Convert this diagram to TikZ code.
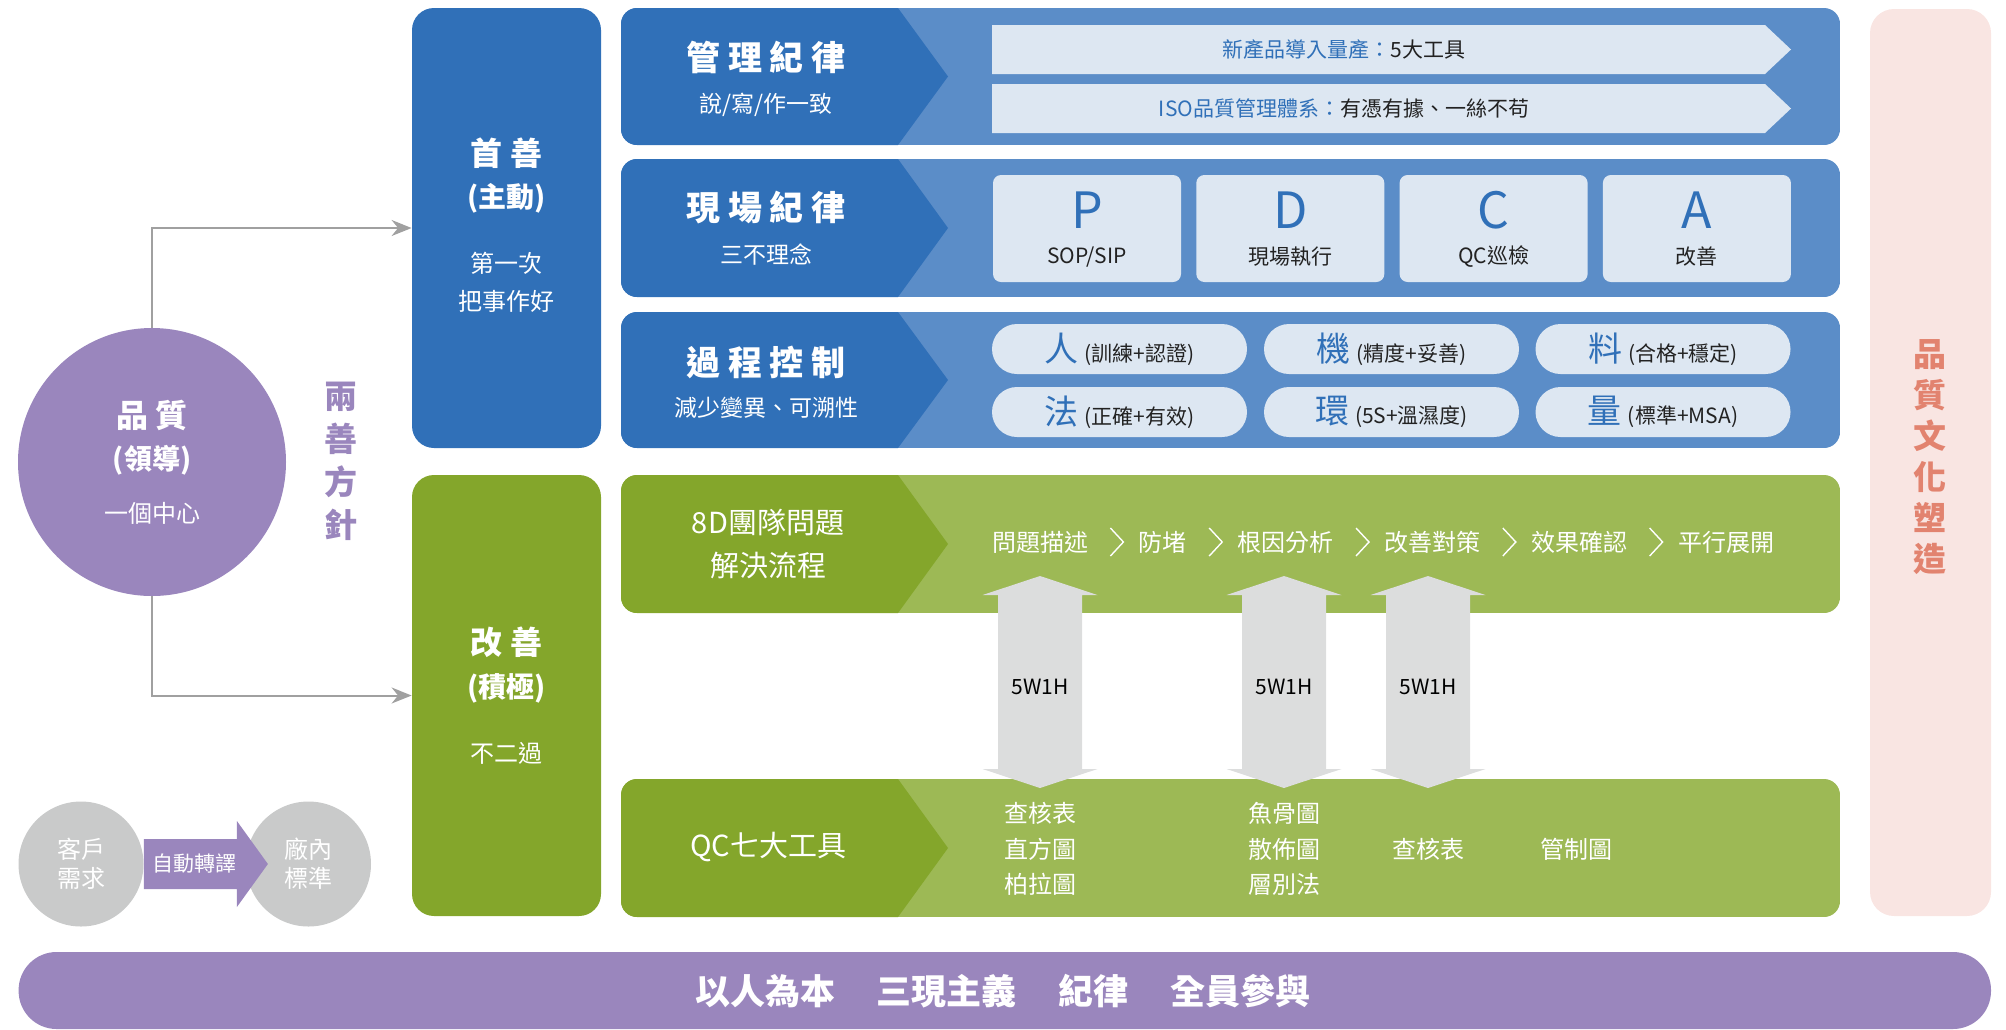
\documentclass[tikz,border=0pt]{standalone}
\usepackage{fontspec}
\setmainfont{Noto Sans CJK TC}
\usetikzlibrary{positioning,calc,arrows.meta}
\definecolor{blueDark}{HTML}{3070B8}
\definecolor{blueLight}{HTML}{5B8DC8}
\definecolor{bluePale}{HTML}{DDE7F2}
\definecolor{greenDark}{HTML}{84A62B}
\definecolor{greenLight}{HTML}{9DB955}
\definecolor{purpleMain}{HTML}{9A86BD}
\definecolor{greyCircle}{HTML}{C9CACA}
\definecolor{greyArrow}{HTML}{DCDDDD}
\definecolor{greyLine}{HTML}{A0A0A0}
\definecolor{pinkBack}{HTML}{F9E5E2}
\definecolor{pinkText}{HTML}{E2836F}
\definecolor{textcol}{HTML}{222222}

\begin{document}
\begin{tikzpicture}[x=0.5pt,y=-0.5pt,
	rowtitle/.style={text=white,font=\fontsize{17}{20}\selectfont\bfseries},
	rowsub/.style={text=white,font=\fontsize{11.5}{14}\selectfont},
	grtitle/.style={text=white,align=center,font=\fontsize{14.5}{21.5}\selectfont},
	coltitle/.style={text=white,font=\fontsize{16}{19}\selectfont\bfseries},
	colparen/.style={text=white,font=\fontsize{14}{16}\selectfont\bfseries},
	colsub/.style={text=white,align=center,font=\fontsize{12}{19}\selectfont},
	colbox/.style={rounded corners=11pt,minimum width=94.5pt,inner sep=0pt},
	pdcabox/.style={fill=bluePale,rounded corners=4pt,minimum width=94pt,minimum height=53.5pt,inner sep=0pt},
	pdcaletter/.style={text=blueDark,font=\fontsize{25}{25}\selectfont},
	pdcalabel/.style={text=textcol,font=\fontsize{10.5}{12}\selectfont},
	pill/.style={fill=bluePale,rounded corners=12.5pt,minimum width=127.5pt,minimum height=25pt,inner sep=0pt,text=textcol,font=\fontsize{10.5}{12}\selectfont},
	subtext/.style={text=textcol,font=\fontsize{10.5}{12}\selectfont},
	flowtext/.style={text=white,inner sep=0pt,font=\fontsize{12}{14}\selectfont},
	sepline/.style={draw=white,line width=0.7pt},
	wlabel/.style={text=black,font=\fontsize{10.5}{12}\selectfont},
	qcitem/.style={text=white,align=center,font=\fontsize{12}{17.75}\selectfont},
	vtext/.style={align=center,font=\fontsize{16.5}{21.5}\selectfont\bfseries},
	conn/.style={draw=greyLine,line width=1pt,-{Stealth[length=10pt,width=8pt]}},
	greycirc/.style={circle,fill=greyCircle,minimum size=62.5pt,inner sep=0pt,text=white,align=center,font=\fontsize{12}{14.5}\selectfont}
	]
\useasboundingbox (0,0) rectangle (2006,1029);

% culture column on the right
\fill[pinkBack,rounded corners=12pt] (1870,9) rectangle (1991,916);
\node[vtext,text=pinkText,font=\fontsize{16.5}{20.5}\selectfont\bfseries] (culture) at (1930,457.5) {品\\質\\文\\化\\塑\\造};

% five rows with chevron heads
\foreach \ya/\yb/\dk/\lt in {
	8/145/blueDark/blueLight,
	159/297/blueDark/blueLight,
	312/448/blueDark/blueLight,
	475/613/greenDark/greenLight,
	779/917/greenDark/greenLight%
	}{
	\begin{scope}
		\clip[rounded corners=8pt] (621,\ya) rectangle (1840,\yb);
		\fill[\lt] (621,\ya) rectangle (1840,\yb);
		\fill[\dk] (621,\ya) -- (898,\ya) -- (948,{(\ya+\yb)/2}) -- (898,\yb) -- (621,\yb) -- cycle;
	\end{scope}
	}

\node[rowtitle] (mgmt) at (766,57) {管 理 紀 律};
\node[rowsub] (mgmtSub) at (766,105) {說/寫/作一致};
\node[rowtitle] (site) at (766,208) {現 場 紀 律};
\node[rowsub] (siteSub) at (766,255) {三不理念};
\node[rowtitle] (proc) at (766,362) {過 程 控 制};
\node[rowsub] (procSub) at (766,408) {減少變異、可溯性};
\node[grtitle] (eightD) at (768,543.5) {8D團隊問題\\解決流程};
\node[grtitle] (qcTools) at (768,847) {QC七大工具};

% row 1: two arrow strips
\fill[bluePale] (992,25) -- (1765,25) -- (1791,49.5) -- (1765,74) -- (992,74) -- cycle;
\fill[bluePale] (992,84) -- (1765,84) -- (1791,108.5) -- (1765,133) -- (992,133) -- cycle;
\node[subtext] (npi) at (1344,49.5) {\textcolor{blueDark}{新產品導入量產：}5大工具};
\node[subtext] (iso) at (1344,108.5) {\textcolor{blueDark}{ISO品質管理體系：}有憑有據、一絲不苟};

% row 2: PDCA
\foreach \ltr/\lbl [count=\i] in {P/{SOP/SIP},D/現場執行,C/QC巡檢,A/改善}{
	\node[pdcabox] (pdca\i) at ({1087+203.3*(\i-1)},228.5) {};
	\node[pdcaletter] (ltr\i) at ($(pdca\i.center)+(0,-18.5)$) {\ltr};
	\node[pdcalabel] (lbl\i) at ($(pdca\i.center)+(0,28.5)$) {\lbl};
	}

% row 3: six factors
\foreach \px/\py/\ch/\lbl [count=\i] in {
	1119.5/349/人/訓練+認證,
	1391.5/349/機/精度+妥善,
	1663/349/料/合格+穩定,
	1119.5/412/法/正確+有效,
	1391.5/412/環/5S+溫濕度,
	1663/412/量/標準+MSA%
	}{
	\node[pill] (m\i) at (\px,\py) {{\fontsize{17}{17}\selectfont\textcolor{blueDark}{\ch}}\hspace{3pt}(\lbl)};
	}

% row 4: 8D flow
\node[flowtext] (f1) at (1040,542) {問題描述};
\node[flowtext,right=25pt of f1] (f2) {防堵};
\node[flowtext,right=25pt of f2] (f3) {根因分析};
\node[flowtext,right=25pt of f3] (f4) {改善對策};
\node[flowtext,right=25pt of f4] (f5) {效果確認};
\node[flowtext,right=25pt of f5] (f6) {平行展開};
\foreach \a/\b in {f1/f2,f2/f3,f3/f4,f4/f5,f5/f6}{
	\draw[sepline] ($(\a.east)!0.5!(\b.west)+(-3,-14)$) -- ++(13,14) -- ++(-13,14);
	}

% 5W1H double arrows
\foreach \ax [count=\i] in {1040,1284,1428}{
	\fill[greyArrow] ({\ax},576) -- ({\ax+57.5},595) -- ({\ax+42},595) -- ({\ax+42},769) -- ({\ax+57.5},769) -- ({\ax},788)
		-- ({\ax-57.5},769) -- ({\ax-42},769) -- ({\ax-42},595) -- ({\ax-57.5},595) -- cycle;
	\node[wlabel] (w\i) at (\ax,687) {5W1H};
	}

% row 5: QC tools
\node[qcitem] (qc1) at (1040,849) {查核表\\直方圖\\柏拉圖};
\node[qcitem] (qc2) at (1284,849) {魚骨圖\\散佈圖\\層別法};
\node[qcitem] (qc3) at (1428,849) {查核表};
\node[qcitem] (qc4) at (1576,849) {管制圖};

% two columns
\node[colbox,fill=blueDark,minimum height=220pt] (first) at (506.5,228) {};
\node[coltitle] (firstT) at (506.5,153) {首 善};
\node[colparen] (firstP) at (506.5,198) {(主動)};
\node[colsub] (firstS) at (506.5,282) {第一次\\把事作好};
\node[colbox,fill=greenDark,minimum height=220.5pt] (improve) at (506.5,695.5) {};
\node[coltitle] (improveT) at (506.5,642) {改 善};
\node[colparen] (improveP) at (506.5,688) {(積極)};
\node[colsub] (improveS) at (506.5,753) {不二過};

% quality circle
\node[circle,fill=purpleMain,minimum size=134pt,inner sep=0pt] (quality) at (152,462) {};
\node[coltitle] (qualityT) at (152,415) {品 質};
\node[colparen] (qualityP) at (152,460) {(領導)};
\node[colsub] (qualityS) at (152,513) {一個中心};
\draw[conn] (quality.north) |- (first.west);
\draw[conn] (quality.south) |- (improve.west);
\node[vtext,text=purpleMain] (policy) at (341,461) {兩\\善\\方\\針};

% customer to factory
\node[greycirc] (cust) at (81,864) {客戶\\需求};
\node[greycirc] (fac) at (308.5,864) {廠內\\標準};
\fill[purpleMain] ($(cust.east)+(0,-25)$) -- ++(93,0) -- ++(0,-18) -- ++(31,43) -- ++(-31,43) -- ++(0,-18) -- ++(-93,0) -- cycle;
\node[text=white,font=\fontsize{10.5}{12}\selectfont] (auto) at ($(cust.east)+(50.5,0)$) {自動轉譯};

% base bar
\fill[purpleMain,rounded corners=19pt] (18.6,952) rectangle (1991,1029);
\node[text=white,font=\fontsize{17.5}{20}\selectfont\bfseries] (base) at (1003,991) {以人為本\hspace{1.2em}三現主義\hspace{1.2em}紀律\hspace{1.2em}全員參與};
\end{tikzpicture}
\end{document}
